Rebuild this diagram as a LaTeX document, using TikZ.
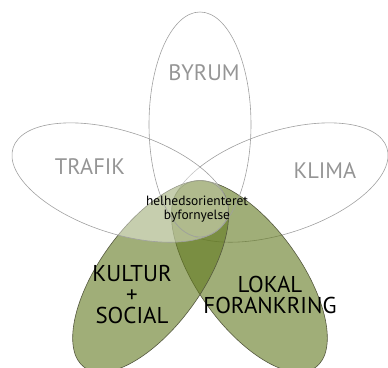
\documentclass[tikz,border=0pt]{standalone}
\usepackage{fontspec}
\setmainfont{PT Sans}
\definecolor{leafgreen}{HTML}{61781E}
\definecolor{ringgray}{HTML}{A0A0A0}
\definecolor{labelgray}{HTML}{959595}
\definecolor{petalline}{HTML}{55583F}

\begin{document}
\begin{tikzpicture}[x=1bp, y=1bp,
  ring/.style={draw=ringgray, line width=0.6pt},
  veil/.style={ring, fill=white, fill opacity=0.4},
  petal/.style={draw=petalline, line width=0.6pt, fill=leafgreen, fill opacity=0.6},
  greylabel/.style={text=labelgray, font=\fontsize{22.5}{22.5}\selectfont},
  blacklabel/.style={text=black, align=center, font=\fontsize{23}{21.5}\selectfont}]
  \useasboundingbox (0,0) rectangle (388,368);
  \clip (0,0) rectangle (388,368);
  \coordinate (O) at (200,159.5);

  % the five petals, 72 degrees apart
  \draw[ring, shift={(O)}, rotate=18] (84,0) ellipse [x radius=112.5, y radius=51];
  \draw[petal, shift={(O)}, rotate=306] (84,0) ellipse [x radius=112.5, y radius=51];
  \draw[petal, shift={(O)}, rotate=234] (84,0) ellipse [x radius=112.5, y radius=51];
  \draw[veil, shift={(O)}, rotate=162] (84,0) ellipse [x radius=112.5, y radius=51];
  \draw[ring, shift={(O)}, rotate=90] (84,0) ellipse [x radius=112.5, y radius=51];

  \node[greylabel] (B) at (204,295) {BYRUM};
  \node[greylabel] (T) at (90,201) {TRAFIK};
  \node[greylabel] (K) at (325,197.5) {KLIMA};

  \node[align=center, font=\fontsize{13.5}{14}\selectfont] (C) at (197,159) {helhedsorienteret\\byfornyelse};

  \node[blacklabel] (S) at (132,73.5) {KULTUR\\+\\SOCIAL};
  \node[blacklabel] (L) at (270,73) {LOKAL\\FORANKRING};
\end{tikzpicture}
\end{document}
